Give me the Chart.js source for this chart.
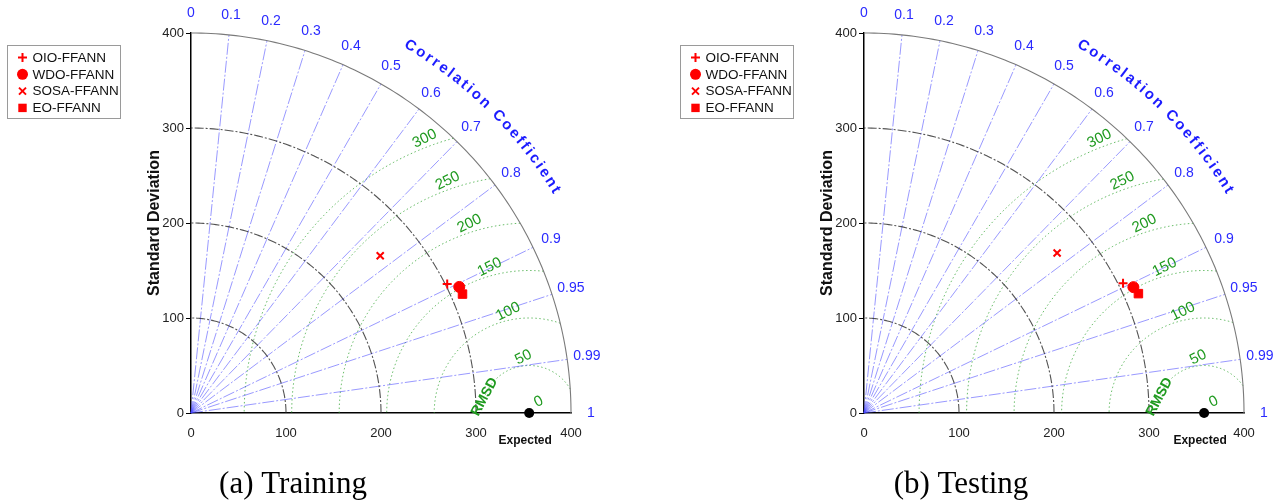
<!DOCTYPE html>
<html>
<head>
<meta charset="utf-8">
<title>Taylor diagrams</title>
<style>
  html, body { margin: 0; padding: 0; background: #fff; width: 1288px; height: 504px; overflow: hidden; }
  .panel { position: absolute; top: 0; width: 644px; height: 504px; }
  canvas { display: block; }
</style>
<script src="https://cdn.jsdelivr.net/npm/chart.js@4.4.1/dist/chart.umd.min.js"></script>
</head>
<body>
<div class="panel" style="left:0"><canvas id="training" width="644" height="504"></canvas></div>
<div class="panel" style="left:644px"><canvas id="testing" width="644" height="504"></canvas></div>
<script>
// Models compared against the observed series
const models = ['OIO-FFANN', 'WDO-FFANN', 'SOSA-FFANN', 'EO-FFANN'];

// Standard deviation and correlation coefficient of each model
const trainingStd = [302, 312, 259, 312];
const trainingCorr = [0.893, 0.905, 0.769, 0.916];
const trainingRefStd = 356;

const testingStd = [305, 313, 264, 315];
const testingCorr = [0.894, 0.906, 0.770, 0.917];
const testingRefStd = 358;

// Grid definitions
const stdTicks = [0, 100, 200, 300, 400];
const stdArcs = [100, 200, 300];
const corrLabels = [0, 0.1, 0.2, 0.3, 0.4, 0.5, 0.6, 0.7, 0.8, 0.9, 0.95, 0.99, 1];
const rmsdLevels = [50, 100, 150, 200, 250, 300];

const SANS = "'Liberation Sans', Arial, sans-serif";
const SERIF = "'Liberation Serif', 'Times New Roman', serif";
const BLUE_TEXT = '#2a2aff';
const GREEN_TEXT = '#1f9a1f';
const MARKER_RED = '#ff0000';

const markerStyles = [
  { pointStyle: 'cross', radius: 4.5, borderWidth: 2 },
  { pointStyle: 'circle', radius: 5.5, borderWidth: 1 },
  { pointStyle: 'crossRot', radius: 5, borderWidth: 2 },
  { pointStyle: 'rect', radius: 6, borderWidth: 1 }
];

Chart.defaults.font.family = SANS;

function strokePoly(ctx, pts, color, width, dash) {
  ctx.save();
  ctx.beginPath();
  pts.forEach((p, i) => (i ? ctx.lineTo(p[0], p[1]) : ctx.moveTo(p[0], p[1])));
  ctx.strokeStyle = color;
  ctx.lineWidth = width;
  ctx.setLineDash(dash);
  ctx.stroke();
  ctx.restore();
}

function drawLegendMarker(ctx, style, x, y) {
  ctx.save();
  ctx.strokeStyle = MARKER_RED;
  ctx.fillStyle = MARKER_RED;
  ctx.lineWidth = 2;
  ctx.beginPath();
  if (style === 'cross') {
    ctx.moveTo(x - 4.5, y); ctx.lineTo(x + 4.5, y);
    ctx.moveTo(x, y - 4.5); ctx.lineTo(x, y + 4.5);
    ctx.stroke();
  } else if (style === 'crossRot') {
    ctx.moveTo(x - 3.5, y - 3.5); ctx.lineTo(x + 3.5, y + 3.5);
    ctx.moveTo(x + 3.5, y - 3.5); ctx.lineTo(x - 3.5, y + 3.5);
    ctx.stroke();
  } else if (style === 'circle') {
    ctx.arc(x, y, 5.5, 0, Math.PI * 2);
    ctx.fill();
  } else {
    ctx.fillRect(x - 4.2, y - 4.2, 8.4, 8.4);
  }
  ctx.restore();
}

// Polar grid of the Taylor diagram, drawn through the chart's own scales
const taylorGrid = {
  id: 'taylorGrid',
  beforeDatasetsDraw(chart, args, opts) {
    const { ctx, scales: { x, y } } = chart;
    const P = (u, v) => [x.getPixelForValue(u), y.getPixelForValue(v)];
    const rMax = stdTicks[stdTicks.length - 1];
    const ref = opts.refStd;

    // RMSD circles around the reference point
    rmsdLevels.forEach(L => {
      const xi = (rMax * rMax - L * L + ref * ref) / (2 * ref);
      const phi0 = xi >= ref + L ? 0 : Math.acos(Math.min(1, (xi - ref) / L));
      const pts = [];
      const n = 160;
      for (let i = 0; i <= n; i++) {
        const f = phi0 + (Math.PI - phi0) * i / n;
        pts.push(P(ref + L * Math.cos(f), L * Math.sin(f)));
      }
      strokePoly(ctx, pts, 'rgba(40,160,40,0.7)', 1, [1.5, 2.5]);
    });

    // correlation rays
    corrLabels.filter(c => c > 0 && c < 1).forEach(c => {
      const a = Math.acos(c);
      strokePoly(ctx, [P(0, 0), P(rMax * Math.cos(a), rMax * Math.sin(a))],
        'rgba(70,70,255,0.55)', 1, [12, 2, 2, 2]);
    });

    // standard deviation arcs
    const arc = r => {
      const pts = [];
      for (let i = 0; i <= 120; i++) {
        const a = (Math.PI / 2) * i / 120;
        pts.push(P(r * Math.cos(a), r * Math.sin(a)));
      }
      return pts;
    };
    stdArcs.forEach(r => strokePoly(ctx, arc(r), 'rgba(40,40,40,0.8)', 1.1, [9, 2, 2, 2]));
    strokePoly(ctx, arc(rMax), '#7a7a7a', 1.1, []);
  },
  afterDatasetsDraw(chart, args, opts) {
    const { ctx, scales: { x, y }, chartArea } = chart;
    const P = (u, v) => [x.getPixelForValue(u), y.getPixelForValue(v)];
    const ref = opts.refStd;
    const pxPerUnit = x.getPixelForValue(1) - x.getPixelForValue(0);

    ctx.save();
    // correlation labels
    ctx.fillStyle = BLUE_TEXT;
    ctx.font = '14px ' + SANS;
    ctx.textAlign = 'center';
    ctx.textBaseline = 'middle';
    corrLabels.forEach(c => {
      const a = Math.acos(c);
      const [px, py] = P(421 * Math.cos(a), 421 * Math.sin(a));
      ctx.fillText(String(c), px, py);
    });

    // curved axis title along the outer arc
    const title = 'Correlation Coefficient';
    ctx.font = 'bold 15px ' + SANS;
    ctx.fillStyle = '#1c1cff';
    const spacing = 2.4;
    const R = 450 * pxPerUnit;
    const widths = [...title].map(ch => ctx.measureText(ch).width);
    const total = widths.reduce((s, w) => s + w, 0) + spacing * (widths.length - 1);
    const mid = 45.5 * Math.PI / 180;
    let offset = 0;
    const [ox, oy] = P(0, 0);
    [...title].forEach((ch, i) => {
      const a = mid + (total / 2 - offset - widths[i] / 2) / R;
      ctx.save();
      ctx.translate(ox + R * Math.cos(a), oy - R * Math.sin(a));
      ctx.rotate(Math.PI / 2 - a);
      ctx.fillText(ch, 0, 0);
      ctx.restore();
      offset += widths[i] + spacing;
    });

    // RMSD labels
    ctx.fillStyle = GREEN_TEXT;
    ctx.font = '15px ' + SANS;
    const rot = -26 * Math.PI / 180;
    const putRotated = (text, u, v, angle) => {
      const [px, py] = P(u, v);
      ctx.save();
      ctx.translate(px, py);
      ctx.rotate(angle);
      ctx.fillText(text, 0, 0);
      ctx.restore();
    };
    rmsdLevels.forEach(L => {
      const f = (96 + 8.3 * Math.log(L / 50)) * Math.PI / 180;
      const r = L + 9;
      putRotated(String(L), ref + r * Math.cos(f), r * Math.sin(f), rot);
    });
    putRotated('0', ref + 10, 12, rot);
    ctx.font = 'bold 14px ' + SANS;
    putRotated('RMSD', ref - 47, 17, -62 * Math.PI / 180);

    // axis titles
    ctx.fillStyle = '#111';
    ctx.font = 'bold 12px ' + SANS;
    ctx.fillText('Expected', x.getPixelForValue(ref) - 4, 441);
    ctx.save();
    ctx.font = 'bold 16px ' + SANS;
    ctx.translate(chartArea.left - 36, (chartArea.top + chartArea.bottom) / 2);
    ctx.rotate(-Math.PI / 2);
    ctx.fillText('Standard Deviation', 0, 0);
    ctx.restore();

    // caption under the panel
    ctx.font = '31px ' + SERIF;
    ctx.textBaseline = 'alphabetic';
    ctx.fillStyle = '#000';
    ctx.fillText(opts.caption, chartArea.left + opts.captionShift, 493);
    ctx.restore();
  },
  afterDraw(chart) {
    // boxed legend at the upper left
    const { ctx, chartArea } = chart;
    const left = Math.round(chartArea.left - 184) + 0.5;
    const top = 45.5;
    const w = 113, h = 73;
    ctx.save();
    ctx.fillStyle = '#fff';
    ctx.fillRect(left, top, w, h);
    ctx.strokeStyle = '#9a9a9a';
    ctx.lineWidth = 1;
    ctx.strokeRect(left, top, w, h);
    ctx.font = '13.5px ' + SANS;
    ctx.textAlign = 'left';
    ctx.textBaseline = 'middle';
    ctx.fillStyle = '#111';
    models.forEach((m, i) => {
      const ry = top + 12 + i * 16.8;
      drawLegendMarker(ctx, markerStyles[i].pointStyle, left + 15, ry);
      ctx.fillText(m, left + 25, ry + 0.5);
    });
    ctx.restore();
  }
};

function buildDatasets(std, corr, refStd) {
  const sets = models.map((m, i) => ({
    label: m,
    data: [{ x: std[i] * corr[i], y: std[i] * Math.sqrt(1 - corr[i] * corr[i]) }],
    pointStyle: markerStyles[i].pointStyle,
    pointRadius: markerStyles[i].radius,
    borderWidth: markerStyles[i].borderWidth,
    borderColor: MARKER_RED,
    backgroundColor: MARKER_RED,
    showLine: false,
    clip: false
  }));
  sets.push({
    label: 'Expected',
    data: [{ x: refStd, y: 0 }],
    pointStyle: 'circle',
    pointRadius: 5,
    borderWidth: 0,
    backgroundColor: '#000',
    borderColor: '#000',
    showLine: false,
    clip: false
  });
  return sets;
}

function makePanel(id, std, corr, refStd, caption, yAxisWidth, rightPad, captionShift) {
  const axisTicks = {
    stepSize: 100,
    color: '#222',
    font: { size: 13, family: SANS }
  };
  return new Chart(document.getElementById(id), {
    type: 'scatter',
    data: { datasets: buildDatasets(std, corr, refStd) },
    options: {
      responsive: false,
      animation: false,
      events: [],
      layout: { padding: { top: 33, right: rightPad, left: 0, bottom: 0 } },
      plugins: {
        legend: { display: false },
        tooltip: { enabled: false },
        taylorGrid: { refStd, caption, captionShift }
      },
      scales: {
        x: {
          type: 'linear',
          min: stdTicks[0],
          max: stdTicks[stdTicks.length - 1],
          ticks: Object.assign({ padding: 5, maxRotation: 0 }, axisTicks),
          afterBuildTicks: s => { s.ticks = stdTicks.map(v => ({ value: v })); },
          grid: { display: false },
          border: { display: true, color: '#000', width: 1.5 },
          afterFit: s => { s.height = 91; }
        },
        y: {
          type: 'linear',
          min: stdTicks[0],
          max: stdTicks[stdTicks.length - 1],
          ticks: Object.assign({ padding: 2 }, axisTicks),
          afterBuildTicks: s => { s.ticks = stdTicks.map(v => ({ value: v })); },
          grid: { display: true, drawOnChartArea: false, drawTicks: true, tickLength: 5, color: '#000', lineWidth: 1 },
          border: { display: true, color: '#000', width: 1.5 },
          afterFit: s => { s.width = yAxisWidth; }
        }
      }
    },
    plugins: [taylorGrid]
  });
}

makePanel('training', trainingStd, trainingCorr, trainingRefStd, '(a) Training', 191, 73, 102);
makePanel('testing', testingStd, testingCorr, testingRefStd, '(b) Testing', 220, 44, 97);
</script>
</body>
</html>
